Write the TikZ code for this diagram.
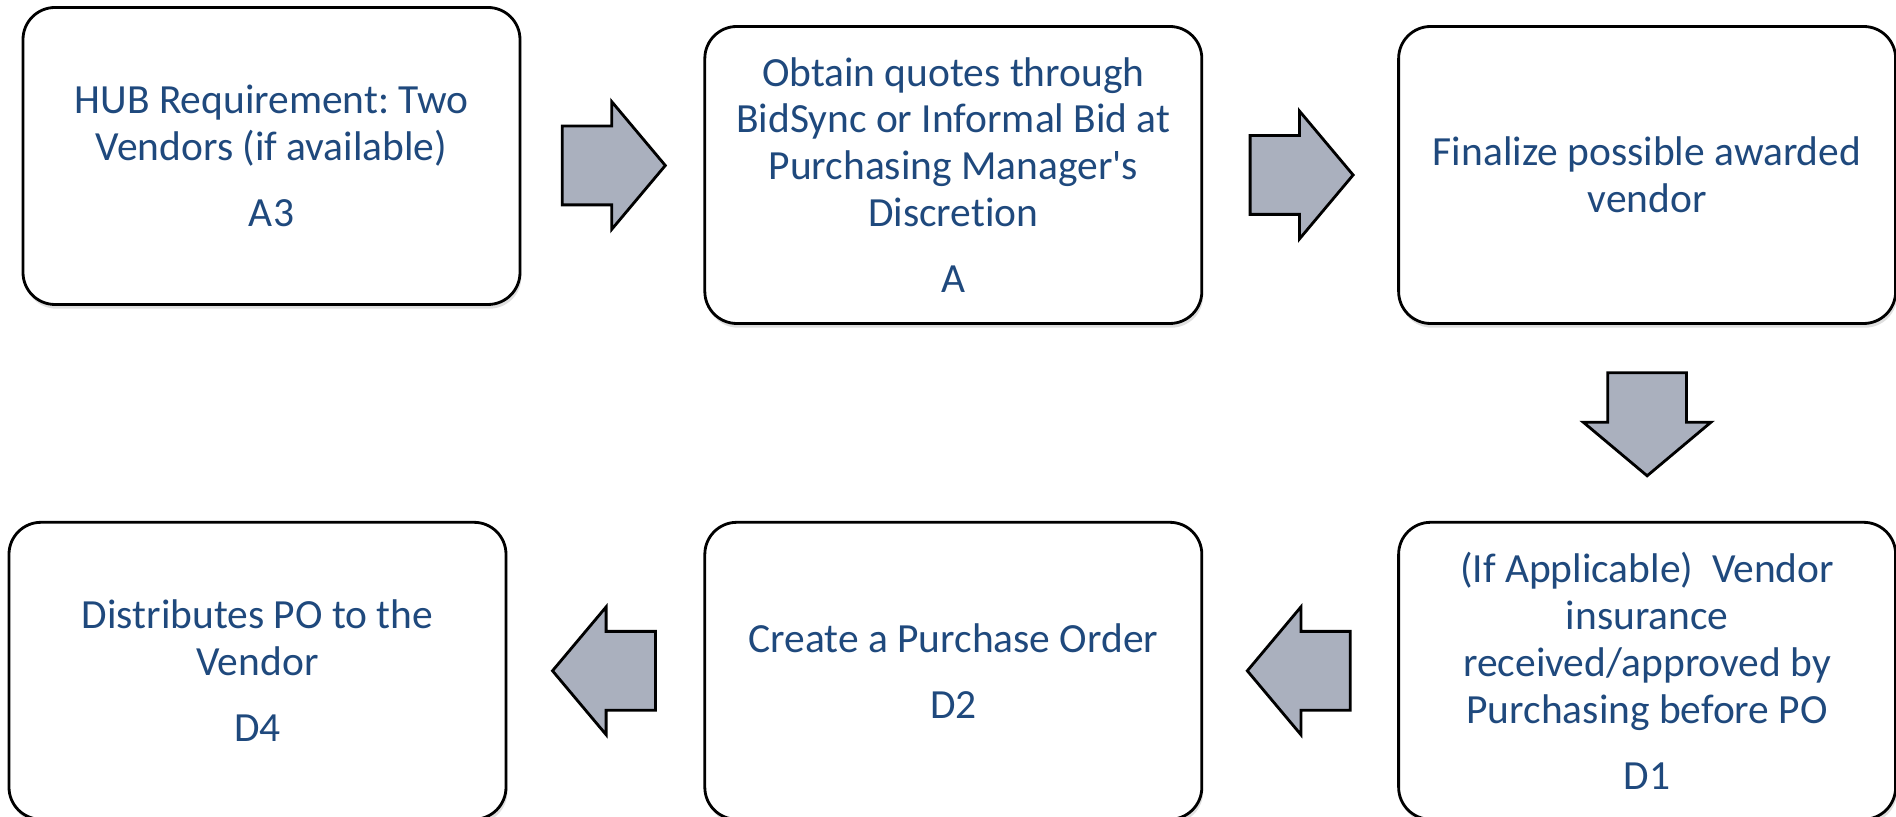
\documentclass[tikz,border=0pt]{standalone}
\usepackage{fontspec}
\setmainfont{Carlito}[Ligatures=NoCommon]
\usetikzlibrary{positioning, calc, shapes.arrows, shadows}
\definecolor{stepblue}{HTML}{1F497D}
\definecolor{arrowgray}{RGB}{170,176,190}

\begin{document}
\frenchspacing
\begin{tikzpicture}[stepbox/.style={rectangle, rounded corners=0.32cm, draw=black, line width=0.8pt, fill=white, minimum width=4.97cm, minimum height=2.97cm, align=center, text=stepblue, font=\fontsize{11.8pt}{13.3pt}\selectfont, drop shadow={shadow xshift=0.4pt, shadow yshift=-1.2pt, opacity=0.25}}, blockarrow/.style={single arrow, draw=black, line width=0.8pt, fill=arrowgray, minimum height=1.03cm, inner xsep=0pt, inner ysep=0.38cm, single arrow head extend=0.245cm, single arrow tip angle=100, anchor=tail}]

    \useasboundingbox (0,0) rectangle (18.96,8.17);

    %Boxes
    \node[stepbox](hub) at (2.715,6.61){HUB Requirement: Two\\Vendors (if available)\\[5.5pt]A3};
    \node[stepbox](quotes)[right=1.82cm of hub, yshift=-0.19cm]{Obtain quotes through\\BidSync or Informal Bid at\\Purchasing Manager\textquotesingle s\\Discretion\\[5.5pt]A};
    \node[stepbox](finalize)[right=1.94cm of quotes]{Finalize possible awarded\\vendor};
    \node[stepbox](insurance)[below=1.96cm of finalize]{(If Applicable)\ \ Vendor\\insurance\\received/approved by\\Purchasing before PO\\[5.5pt]D1};
    \node[stepbox](purchase)[left=1.94cm of insurance]{Create a Purchase Order\\[5.5pt]D2};
    \node[stepbox](distribute)[left=1.96cm of purchase]{Distributes PO to the\\Vendor\\[5.5pt]D4};

    %Arrows
    \node[blockarrow](arrow1) at ($(hub.east)!0.5!(quotes.west)+(-0.515,0)$){};
    \node[blockarrow](arrow2) at ($(quotes.east)!0.5!(finalize.west)+(-0.515,0)$){};
    \node[blockarrow, rotate=-90](arrow3) at ($(finalize.south)!0.5!(insurance.north)+(0,0.515)$){};
    \node[blockarrow, rotate=180](arrow4) at ($(insurance.west)!0.5!(purchase.east)+(0.515,0)$){};
    \node[blockarrow, rotate=180](arrow5) at ($(purchase.west)!0.5!(distribute.east)+(0.515,0)$){};

\end{tikzpicture}
\end{document}
